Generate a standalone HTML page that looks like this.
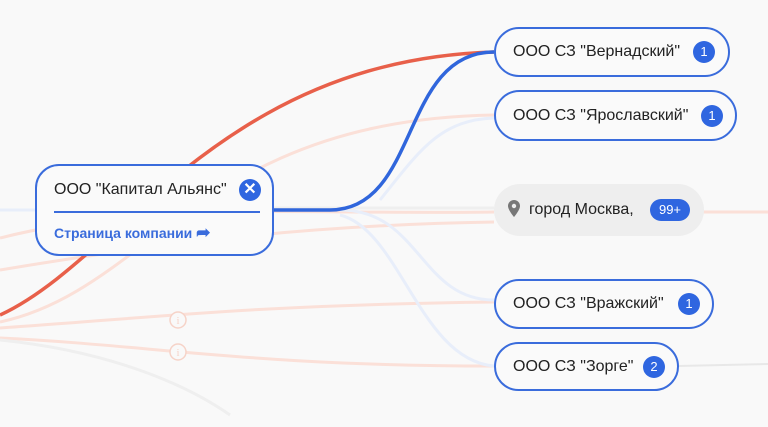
<!DOCTYPE html>
<html><head><meta charset="utf-8">
<style>
html,body{margin:0;padding:0;width:768px;height:427px;overflow:hidden;background:#f9f9f9;font-family:"Liberation Sans",sans-serif;}
.n{position:absolute;box-sizing:border-box;border:2.5px solid #3a6cdc;background:#fafafa;border-radius:26px;font-size:16px;color:#222;}
.b{position:absolute;width:22px;height:22px;border-radius:50%;background:#2f66e0;color:#fff;font-size:13px;text-align:center;line-height:22px;}
</style></head><body>
<svg width="768" height="427" style="position:absolute;left:0;top:0" fill="none">
<g stroke="#fbe0d8" stroke-width="3">
<path d="M0,238 C150,200 300,215 494,212"/>
<path d="M0,270 C150,245 300,225 494,222"/>
<path d="M0,328 C150,318 250,305 494,302"/>
<path d="M0,338 C150,345 250,366 494,366"/>
<path d="M0,322 C150,290 200,120 494,115"/>
<path d="M703,212 L768,212"/>
</g>
<g stroke="#e8eefa" stroke-width="3">
<path d="M0,210 L35,210"/>
<path d="M340,210 C420,210 420,300 494,300"/>
<path d="M340,215 C400,230 420,360 494,366"/>
<path d="M380,200 C420,150 440,120 494,118"/>
</g>
<path d="M0,340 C100,350 180,380 230,415" stroke="#efefef" stroke-width="3"/>
<path d="M273,208 L494,208" stroke="#efefef" stroke-width="3"/>
<path d="M678,366 L768,364" stroke="#e8e8e8" stroke-width="2"/>
<g stroke="#f6d3c8" stroke-width="1.5" fill="#f9f9f9">
<circle cx="178" cy="320" r="8"/><circle cx="178" cy="352" r="8"/>
</g>
<g fill="#f6d3c8" font-size="11" font-family="Liberation Serif" text-anchor="middle">
<text x="178" y="324">i</text><text x="178" y="356">i</text>
</g>
<path d="M0,315 C120,260 220,60 494,52" stroke="#e8604a" stroke-width="3.5"/>
<path d="M273,210 L330,210 C420,210 400,52 494,52" stroke="#3066dc" stroke-width="3.5"/>
</svg>

<div class="n" style="left:35px;top:164px;width:239px;height:92px;border-radius:24px;">
 <div style="position:absolute;left:17px;top:15px;">ООО "Капитал Альянс"</div>
 <div class="b" style="left:202px;top:13px;font-size:16px;font-weight:bold;">✕</div>
 <div style="position:absolute;left:17px;right:12px;top:45px;height:2px;background:#3a6cdc;"></div>
 <div style="position:absolute;left:17px;top:57px;font-size:14px;font-weight:bold;color:#3a6cdc;">Страница компании <span style="font-size:17px">➦</span></div>
</div>

<div class="n" style="left:494px;top:27px;width:236px;height:50px;"><div style="position:absolute;left:17px;top:14px;">ООО СЗ "Вернадский"</div><div class="b" style="left:197px;top:12px;">1</div></div>
<div class="n" style="left:494px;top:90px;width:243px;height:51px;"><div style="position:absolute;left:17px;top:15px;">ООО СЗ "Ярославский"</div><div class="b" style="left:205px;top:13px;">1</div></div>
<div style="position:absolute;left:494px;top:184px;width:210px;height:52px;border-radius:26px;background:#eeeeee;font-size:16px;color:#222;">
 <svg style="position:absolute;left:14px;top:16px" width="12" height="17" viewBox="0 0 12 17"><path d="M6,0 C2.7,0 0,2.6 0,6 C0,10 6,17 6,17 C6,17 12,10 12,6 C12,2.6 9.3,0 6,0Z" fill="#777"/><circle cx="6" cy="6" r="2.2" fill="#eee"/></svg>
 <div style="position:absolute;left:35px;top:17px;">город Москва,</div>
 <div style="position:absolute;left:156px;top:15px;width:40px;height:22px;border-radius:11px;background:#2f66e0;color:#fff;font-size:13px;text-align:center;line-height:22px;">99+</div>
</div>
<div class="n" style="left:494px;top:279px;width:220px;height:50px;"><div style="position:absolute;left:17px;top:14px;">ООО СЗ "Вражский"</div><div class="b" style="left:182px;top:12px;">1</div></div>
<div class="n" style="left:494px;top:342px;width:185px;height:49px;"><div style="position:absolute;left:17px;top:14px;">ООО СЗ "Зорге"</div><div class="b" style="left:147px;top:12px;">2</div></div>
</body></html>
